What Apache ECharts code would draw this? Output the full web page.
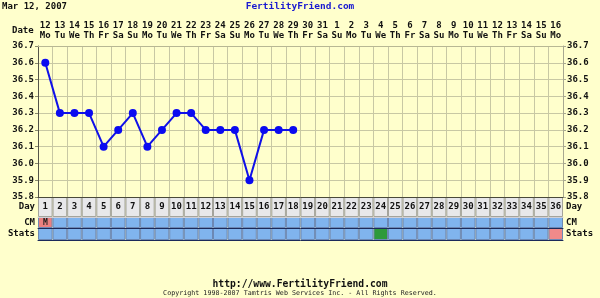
<!DOCTYPE html>
<html><head><meta charset="utf-8">
<script src="https://cdn.jsdelivr.net/npm/echarts@6/dist/echarts.min.js"></script>
<style>html,body{margin:0;padding:0;background:#ffffcc}#c{width:600px;height:298px}</style>
</head><body><div id="c"></div>
<script>
// ---- data ----
const chartDate = 'Mar 12, 2007';
const siteTitle = 'FertilityFriend.com';
const footerUrl = 'http://www.FertilityFriend.com';
const copyright = 'Copyright 1998-2007 Tamtris Web Services Inc. - All Rights Reserved.';
const dates = ['12','13','14','15','16','17','18','19','20','21','22','23','24','25','26','27','28','29','30','31',
  '1','2','3','4','5','6','7','8','9','10','11','12','13','14','15','16'];
const weekdays = ['Mo','Tu','We','Th','Fr','Sa','Su','Mo','Tu','We','Th','Fr','Sa','Su','Mo','Tu','We','Th','Fr','Sa',
  'Su','Mo','Tu','We','Th','Fr','Sa','Su','Mo','Tu','We','Th','Fr','Sa','Su','Mo'];
const cycleDays = ['1','2','3','4','5','6','7','8','9','10','11','12','13','14','15','16','17','18',
  '19','20','21','22','23','24','25','26','27','28','29','30','31','32','33','34','35','36'];
const temps = [36.6,36.3,36.3,36.3,36.1,36.2,36.3,36.1,36.2,36.3,36.3,36.2,36.2,36.2,35.9,36.2,36.2,36.2];
const tempMin = 35.8, tempMax = 36.7, tempStep = 0.1;
const cmMarks = ['M','','','','','','','','','','','','','','','','','','','','','','','','','','','','','','','','','','',''];
// stats codes: 0 none, 1 green, 2 pink
const statsMarks = [0,0,0,0,0,0,0,0,0,0,0,0,0,0,0,0,0,0,0,0,0,0,0,1,0,0,0,0,0,0,0,0,0,0,0,2];

// ---- styles ----
const FONT = 'DejaVu Sans Mono';
const BG = '#ffffcc';
const GRIDC = '#c8c8a4';
const BLUE_ROW = '#80b4ee';
const L = 38, R = 37;

const chart = echarts.init(document.getElementById('c'), null, {renderer: 'canvas'});

function rowGrid(top, height) { return {left: L, right: R, top: top, height: height, containLabel: false}; }

const lbl = {fontFamily: FONT, fontWeight: 'bold', fontSize: 9, color: '#111'};

function rowAxes(gi, name, lineColor) {
  return {
    x: {type: 'category', gridIndex: gi, data: cycleDays, boundaryGap: true, z: 10,
        axisLine: {show: true, lineStyle: {color: lineColor, width: 1}}, axisTick: {show: false},
        axisLabel: {show: false}, splitLine: {show: false}},
    y: [
      {type: 'value', gridIndex: gi, min: 0, max: 1, position: 'left', axisLine: {show: false},
       axisTick: {show: false}, splitLine: {show: false},
       axisLabel: {show: true, showMinLabel: false, showMaxLabel: false, margin: 3, formatter: () => name, ...lbl}},
      {type: 'value', gridIndex: gi, min: 0, max: 1, position: 'right', axisLine: {show: false},
       axisTick: {show: false}, splitLine: {show: false},
       axisLabel: {show: true, showMinLabel: false, showMaxLabel: false, margin: 3, formatter: () => name, ...lbl}}
    ]
  };
}
// value axis with min 0 max 1 default ticks include 0.5 etc; use interval 1 with custom label on middle
function rowY(gi, name, side) {
  return {type: 'value', gridIndex: gi, min: 0, max: 2, interval: 1, position: side,
    axisLine: {show: false}, axisTick: {show: false}, splitLine: {show: false},
    axisLabel: {show: true, margin: 3, ...lbl, formatter: v => (v === 1 ? name : '')}};
}
function rowX(gi, lineColor) {
  return {type: 'category', gridIndex: gi, data: cycleDays, boundaryGap: true, z: 10,
    axisLine: {show: true, lineStyle: {color: lineColor, width: 1}}, axisTick: {show: false},
    axisLabel: {show: false}, splitLine: {show: false}};
}

const dayRowData = cycleDays.map(d => ({value: 2, label: {formatter: d}}));
const cmData = cmMarks.map(m => ({value: 2, itemStyle: {color: m === 'M' ? '#ea8080' : BLUE_ROW},
  label: {show: m !== '', formatter: m}}));
const statsColors = ['#80b4ee', '#2e9a3a', '#f08a8a'];
const statsData = statsMarks.map(s => ({value: 2, itemStyle: {color: statsColors[s]}}));

const option = {
  backgroundColor: BG,
  animation: false,
  grid: [
    {left: L, right: R, top: 46, height: 151},
    rowGrid(197, 20),
    rowGrid(217, 11),
    rowGrid(228, 12)
  ],
  xAxis: [
    {type: 'category', gridIndex: 0, data: dates, position: 'top', boundaryGap: true,
     axisLine: {show: true, lineStyle: {color: '#b8b894'}}, axisTick: {show: false},
     axisLabel: {interval: 0, margin: 5, ...lbl, lineHeight: 10, formatter: (v, i) => v + '\n' + weekdays[i]},
     splitLine: {show: true, interval: 0, lineStyle: {color: GRIDC, width: 1}}},
    {type: 'category', gridIndex: 0, data: dates, position: 'bottom', boundaryGap: true, z: 10,
     axisLine: {show: true, lineStyle: {color: '#4a4a3a'}}, axisTick: {show: false},
     axisLabel: {show: false}, splitLine: {show: false}},
    rowX(1, '#d0d0d8'),
    rowX(2, '#1c2a5a'),
    rowX(3, '#1c2a5a')
  ],
  yAxis: [
    {type: 'value', gridIndex: 0, min: tempMin, max: tempMax, interval: tempStep, position: 'left',
     axisLine: {show: true, lineStyle: {color: '#55554a'}},
     axisTick: {show: true, length: 3, lineStyle: {color: '#88886a'}},
     axisLabel: {margin: 4, ...lbl, formatter: v => v.toFixed(1)},
     splitLine: {show: true, lineStyle: {color: GRIDC, width: 1}}},
    {type: 'value', gridIndex: 0, min: tempMin, max: tempMax, interval: tempStep, position: 'right',
     axisLine: {show: true, lineStyle: {color: '#a8a890'}},
     axisTick: {show: true, length: 3, lineStyle: {color: '#a8a890'}},
     axisLabel: {margin: 4, ...lbl, formatter: v => v.toFixed(1)},
     splitLine: {show: false}},
    rowY(1, 'Day', 'left'), rowY(1, 'Day', 'right'),
    rowY(2, 'CM', 'left'), rowY(2, 'CM', 'right'),
    rowY(3, 'Stats', 'left'), rowY(3, 'Stats', 'right')
  ],
  series: [
    {type: 'line', xAxisIndex: 0, yAxisIndex: 0, data: temps, symbol: 'circle', symbolSize: 8,
     lineStyle: {color: '#1010e8', width: 2}, itemStyle: {color: '#0a0af0'}, z: 5},
    {type: 'bar', xAxisIndex: 2, yAxisIndex: 2, data: dayRowData, barCategoryGap: '0%',
     itemStyle: {color: '#e8e8ea', borderColor: '#a4a49c', borderWidth: 1},
     label: {show: true, position: 'inside', ...lbl, fontSize: 9}},
    {type: 'bar', xAxisIndex: 3, yAxisIndex: 4, data: cmData, barCategoryGap: '0%',
     itemStyle: {borderColor: '#6c88b4', borderWidth: 1},
     label: {position: 'inside', ...lbl, fontSize: 8, color: '#222'}},
    {type: 'bar', xAxisIndex: 4, yAxisIndex: 6, data: statsData, barCategoryGap: '0%',
     itemStyle: {borderColor: '#6c88b4', borderWidth: 1}}
  ],
  graphic: [
    {type: 'text', left: 2, top: 2, style: {text: chartDate, font: 'bold 9px "' + FONT + '"', fill: '#111'}},
    {type: 'text', left: 'center', top: 2, style: {text: siteTitle, font: 'bold 9.5px "' + FONT + '"', fill: '#1a1ad0'}},
    {type: 'text', left: 12, top: 26, style: {text: 'Date', font: 'bold 9px "' + FONT + '"', fill: '#111'}},
    {type: 'text', left: 'center', top: 279, style: {text: footerUrl, font: 'bold 9.7px "' + FONT + '"', fill: '#111'}},
    {type: 'text', left: 'center', top: 290, style: {text: copyright, font: '6.7px "' + FONT + '"', fill: '#222'}}
  ]
};
chart.setOption(option);
</script>
</body></html>
